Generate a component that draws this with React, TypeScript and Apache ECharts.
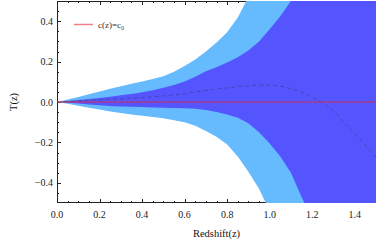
import React, { useEffect, useRef } from "react";
import * as echarts from "echarts";

const zValues = [0, 0.05, 0.1, 0.15, 0.2, 0.25, 0.3, 0.35, 0.4, 0.45, 0.5, 0.55, 0.6, 0.65, 0.7, 0.75, 0.8, 0.85, 0.9, 0.95, 1.0, 1.05, 1.1, 1.15, 1.2, 1.25, 1.3, 1.35, 1.4, 1.45, 1.5];
const outerUpper = [0, 0.012, 0.025, 0.038, 0.052, 0.066, 0.078, 0.09, 0.102, 0.114, 0.128, 0.15, 0.178, 0.21, 0.25, 0.295, 0.345, 0.418, 0.52, 0.52, 0.52, 0.52, 0.52, 0.52, 0.52, 0.52, 0.52, 0.52, 0.52, 0.52, 0.52];
const innerUpper = [0, 0.005, 0.01, 0.015, 0.02, 0.026, 0.033, 0.04, 0.048, 0.058, 0.07, 0.084, 0.102, 0.125, 0.152, 0.172, 0.195, 0.222, 0.255, 0.3, 0.36, 0.425, 0.5, 0.52, 0.52, 0.52, 0.52, 0.52, 0.52, 0.52, 0.52];
const bestFit = [0, 0.003, 0.005, 0.008, 0.011, 0.014, 0.016, 0.019, 0.022, 0.026, 0.03, 0.035, 0.041, 0.05, 0.057, 0.064, 0.07, 0.076, 0.08, 0.083, 0.083, 0.078, 0.066, 0.048, 0.025, -0.005, -0.045, -0.1, -0.155, -0.215, -0.275];
const innerLower = [0, -0.004, -0.008, -0.012, -0.016, -0.02, -0.022, -0.024, -0.025, -0.027, -0.028, -0.03, -0.031, -0.034, -0.04, -0.05, -0.062, -0.078, -0.105, -0.15, -0.205, -0.27, -0.35, -0.47, -0.58, -0.58, -0.58, -0.58, -0.58, -0.58, -0.58];
const outerLower = [0, -0.009, -0.018, -0.028, -0.037, -0.047, -0.055, -0.062, -0.068, -0.074, -0.081, -0.09, -0.1, -0.118, -0.143, -0.172, -0.21, -0.27, -0.345, -0.43, -0.54, -0.54, -0.54, -0.54, -0.54, -0.54, -0.54, -0.54, -0.54, -0.54, -0.54];
const constantLine = [0, 0];
const constantZ = [0, 1.5];
const xRange = [0, 1.5];
const yRange = [-0.5, 0.5];
const xMajorTicks = [0, 0.2, 0.4, 0.6, 0.8, 1.0, 1.2, 1.4];
const xMinorTicks = [0.05, 0.1, 0.15, 0.25, 0.3, 0.35, 0.45, 0.5, 0.55, 0.65, 0.7, 0.75, 0.85, 0.9, 0.95, 1.05, 1.1, 1.15, 1.25, 1.3, 1.35, 1.45];
const yMajorTicks = [-0.4, -0.2, 0, 0.2, 0.4];
const yMinorTicks = [-0.45, -0.35, -0.3, -0.25, -0.15, -0.1, -0.05, 0.05, 0.1, 0.15, 0.25, 0.3, 0.35, 0.45];
const xLabelStep = 0.2;
const yLabelStep = 0.2;

const FONT = "Liberation Serif";
const LIGHT = "#66bbff";
const DARK = "#5555ff";
const AXIS = "#222222";

const pairs = (xs: number[], ys: number[]) => xs.map((x, i) => [x, ys[i]]);
const isStep = (v: number, step: number) => Math.abs(v / step - Math.round(v / step)) < 1e-6;
const fmt = (v: number) => (v < 0 ? "\u2212" + Math.abs(v).toFixed(1) : v.toFixed(1));

function areaSeries(name: string, ys: number[], color: string) {
  return {
    name,
    type: "line",
    data: pairs(zValues, ys),
    showSymbol: false,
    symbol: "none",
    lineStyle: { width: 0, opacity: 0 },
    areaStyle: { color, opacity: 1, origin: "auto" },
    silent: true,
  };
}

const bar = (x: number, y: number, width: number, height: number) => ({
  type: "rect",
  shape: { x, y, width, height },
  style: { fill: AXIS },
});

export default function App() {
  const ref = useRef<HTMLDivElement>(null);
  useEffect(() => {
    document.body.style.margin = "0";
    if (!ref.current) return;
    const chart = echarts.init(ref.current, null, { renderer: "svg" });
    const xTickData = [
      ...xMajorTicks.map((v) => [v, 0, 1]),
      ...xMinorTicks.map((v) => [v, 0, 0]),
    ];
    const yTickData = [
      ...yMajorTicks.map((v) => [0, v, 1]),
      ...yMinorTicks.map((v) => [0, v, 0]),
    ];
    chart.setOption({
      animation: false,
      grid: { left: 49, right: 3, top: 1, bottom: 40, containLabel: false },
      legend: {
        data: ["c(z)=c₀"],
        left: 69,
        top: 15,
        icon: "rect",
        itemWidth: 19,
        itemHeight: 1.5,
        textStyle: { fontFamily: FONT, fontSize: 9, color: "#333" },
      },
      xAxis: {
        type: "value",
        min: xRange[0],
        max: xRange[1],
        interval: 0.2,
        axisLine: { show: false },
        axisTick: { show: false },
        splitLine: { show: false },
        axisLabel: {
          formatter: (v: number) => (isStep(v, xLabelStep) && v < xRange[1] ? fmt(v) : ""),
          fontFamily: FONT,
          fontSize: 10,
          color: "#222",
          margin: 6,
        },
        name: "Redshift(z)",
        nameLocation: "middle",
        nameGap: 25,
        nameTextStyle: { fontFamily: FONT, fontSize: 10.5, color: "#111" },
      },
      yAxis: {
        type: "value",
        min: yRange[0],
        max: yRange[1],
        interval: 0.1,
        axisLine: { show: false },
        axisTick: { show: false },
        splitLine: { show: false },
        axisLabel: {
          formatter: (v: number) => (isStep(v, yLabelStep) && Math.abs(v) < 0.45 ? fmt(v) : ""),
          fontFamily: FONT,
          fontSize: 10,
          color: "#222",
          margin: 4,
        },
        name: "T(z)",
        nameLocation: "middle",
        nameRotate: 90,
        nameGap: 38,
        nameTextStyle: { fontFamily: FONT, fontSize: 10.5, color: "#111" },
      },
      series: [
        areaSeries("outerUpper", outerUpper, LIGHT),
        areaSeries("outerLower", outerLower, LIGHT),
        areaSeries("innerUpper", innerUpper, DARK),
        areaSeries("innerLower", innerLower, DARK),
        {
          name: "bestFit",
          type: "line",
          data: pairs(zValues, bestFit),
          showSymbol: false,
          symbol: "none",
          smooth: true,
          lineStyle: { color: "rgba(60,60,130,0.6)", width: 1, type: [4, 3] },
          silent: true,
        },
        {
          name: "c(z)=c₀",
          type: "line",
          data: pairs(constantZ, constantLine),
          showSymbol: false,
          symbol: "none",
          itemStyle: { color: "rgba(232,60,70,0.65)" },
          lineStyle: { color: "rgba(220,40,60,0.6)", width: 1.5 },
          silent: true,
        },
        {
          name: "xTicks",
          type: "custom",
          data: xTickData,
          renderItem: (params: any, api: any) => {
            const cs = params.coordSys;
            const px = Math.round(api.coord([api.value(0), 0])[0]);
            const len = api.value(2) === 1 ? 4 : 2;
            const top = Math.round(cs.y);
            const bottom = Math.round(cs.y + cs.height);
            return {
              type: "group",
              children: [bar(px, bottom - len, 1, len), bar(px, top, 1, len)],
            };
          },
        },
        {
          name: "yTicks",
          type: "custom",
          data: yTickData,
          renderItem: (params: any, api: any) => {
            const cs = params.coordSys;
            const py = Math.round(api.coord([0, api.value(1)])[1]);
            const len = api.value(2) === 1 ? 4 : 2;
            const left = Math.round(cs.x);
            const right = Math.round(cs.x + cs.width);
            return {
              type: "group",
              children: [bar(left, py, len, 1), bar(right - len, py, len, 1)],
            };
          },
        },
        {
          name: "frame",
          type: "custom",
          data: [[0, 0]],
          renderItem: (params: any) => {
            const cs = params.coordSys;
            const l = Math.round(cs.x);
            const t = Math.round(cs.y);
            const r = Math.round(cs.x + cs.width);
            const b = Math.round(cs.y + cs.height);
            return {
              type: "group",
              children: [
                bar(l, t, r - l, 1),
                bar(l, b - 1, r - l, 1),
                bar(l, t, 1, b - t),
                bar(r - 1, t, 1, b - t),
              ],
            };
          },
        },
      ],
    });
    return () => chart.dispose();
  }, []);
  return <div ref={ref} style={{ width: 379, height: 244 }} />;
}
